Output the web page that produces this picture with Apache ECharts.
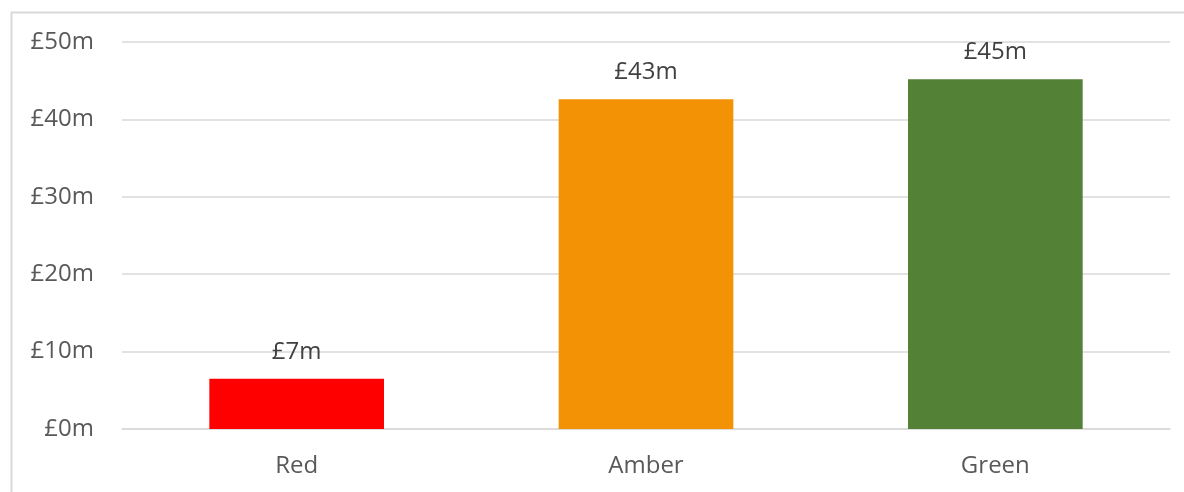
<!DOCTYPE html>
<html>
<head>
<meta charset="utf-8">
<script src="https://cdn.jsdelivr.net/npm/echarts@6/dist/echarts.min.js"></script>
<style>html,body{margin:0;padding:0;background:#fff;}#c{width:1184px;height:492px;}</style>
</head>
<body>
<div id="c"></div>
<script>
const categories = ['Red', 'Amber', 'Green'];
const values = [6.5, 42.6, 45.2];
const valueLabels = ['£7m', '£43m', '£45m'];
const barColors = ['#ff0000', '#f39204', '#538135'];
const yTicks = [0, 10, 20, 30, 40, 50];

const chart = echarts.init(document.getElementById('c'), null, {renderer: 'canvas'});
const font = '"Open Sans", "Noto Sans", sans-serif';
chart.setOption({
  animation: false,
  backgroundColor: '#ffffff',
  graphic: [{
    type: 'rect', left: 9, top: 10, z: -1,
    shape: {width: 1300, height: 600},
    style: {fill: 'none', stroke: '#d9d9d9', lineWidth: 2}
  }],
  grid: {left: 122, right: 14, top: 42, bottom: 63},
  xAxis: {
    type: 'category',
    data: categories,
    axisLine: {show: true, lineStyle: {color: '#d9d9d9', width: 1.5}},
    axisTick: {show: false},
    axisLabel: {color: '#595959', fontSize: 24, fontFamily: font, margin: 25}
  },
  yAxis: {
    type: 'value',
    min: yTicks[0], max: yTicks[yTicks.length - 1], interval: 10,
    axisLine: {show: false},
    axisTick: {show: false},
    splitLine: {lineStyle: {color: '#d9d9d9', width: 1.5}},
    axisLabel: {color: '#595959', fontSize: 24, fontFamily: font, margin: 28,
      formatter: v => '£' + v + 'm'}
  },
  series: [{
    type: 'bar',
    barWidth: '50%',
    data: values.map((v, i) => ({value: v, itemStyle: {color: barColors[i]}})),
    label: {
      show: true, position: 'top', distance: 15,
      color: '#404040', fontSize: 24, fontFamily: font,
      formatter: p => valueLabels[p.dataIndex]
    }
  }]
});
</script>
</body>
</html>
